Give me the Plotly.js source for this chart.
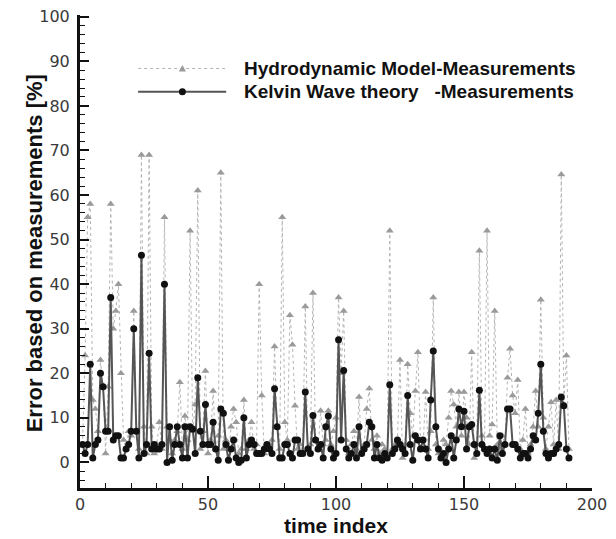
<!DOCTYPE html>
<html>
<head>
<meta charset="utf-8">
<script src="https://cdn.plot.ly/plotly-3.0.1.min.js"></script>
<style>html,body{margin:0;padding:0;background:#fff;}#chart{width:616px;height:539px;}</style>
</head>
<body>
<div id="chart"></div>
<script>
// time index values 1..191
const timeIndex = [];
for (let i = 1; i <= 191; i++) timeIndex.push(i);

// Hydrodynamic Model - Measurements error [%]
const hydroError = [
  4, 24, 55, 58, 14, 12, 7, 23, 17, 2,
  17, 58, 30, 34, 40, 20, 5, 3, 7, 6,
  34, 7, 3, 69, 8, 2, 69, 8, 2, 4,
  9, 3, 55, 8, 5, 2, 5, 7, 18, 3,
  10.4, 5, 52, 7, 13, 61, 3, 7, 20.5, 2,
  5, 16, 3, 6, 65, 3, 5, 1, 8, 12,
  9, 2, 3, 14, 3, 5, 9, 3, 4, 40,
  15, 2, 3, 4, 5, 26, 8, 3, 55, 9,
  5, 33, 26.4, 12.7, 3, 4, 2, 35, 3, 4,
  38, 5, 3, 11.6, 4, 5, 11.6, 4, 7, 10,
  37, 20, 34, 5, 2, 4, 7, 3, 14.7, 2,
  4, 12, 16.6, 5, 3, 6, 2, 4, 3, 2,
  52, 3, 4, 5, 23, 1, 4, 22, 11, 6,
  16, 24.7, 5, 3, 15.8, 3, 7, 37, 4, 2,
  1, 5, 4, 10, 16, 13, 8, 15.8, 6, 15.8,
  10, 4, 24.7, 1, 4, 47.5, 6, 3, 52, 6,
  8.5, 34, 4, 3, 6, 4, 19, 25.5, 15, 11,
  18.5, 3, 5, 12, 2, 4, 8, 16, 8, 36.5,
  10, 3, 8, 13.5, 4, 14, 3, 64.6, 13, 24, 3
];

// Kelvin Wave theory - Measurements error [%]
const kelvinError = [
  4, 2, 4, 22, 1, 4, 5, 20, 17, 7,
  7, 37, 5, 6, 6, 1, 1, 3, 4, 7,
  30, 7, 1, 46.5, 2, 4, 24.5, 3, 4, 3,
  3, 4, 40, 0, 8, 0.5, 4, 8, 4, 1,
  8, 1, 8, 7.5, 2, 19, 7, 4, 13, 4,
  4, 9, 3, 0.5, 12, 11, 4, 0.5, 3, 5,
  1, 0, 0.5, 10, 1, 4, 5, 4, 2, 2,
  2, 3, 4, 3, 2, 16.5, 8, 1, 1, 4,
  4, 2, 1, 5, 5, 2, 2, 15.8, 3, 2,
  10.5, 5, 3, 4, 1, 8, 10.4, 3, 1, 2,
  27.5, 5, 20.6, 3, 1, 2, 4, 1, 8, 2,
  3, 4, 9, 8, 1, 4, 1, 0.5, 2, 1,
  17.4, 2, 3, 5, 4, 3, 2, 15, 4, 0.5,
  6, 5, 3, 5, 3, 1, 14, 25, 8, 3,
  1, 2, 0, 3, 6, 1, 5, 12, 8, 11.5,
  3, 8, 8.5, 4, 2, 16.2, 4, 3, 2, 3,
  1, 3, 0.5, 6, 2, 4, 12, 12, 4, 4,
  3, 1, 2, 2, 1, 3, 6, 5, 11, 22,
  7, 2, 1, 2, 2, 3, 4, 14.7, 12.7, 3, 1
];

const seriesNames = ["Hydrodynamic Model-Measurements", "Kelvin Wave theory   -Measurements"];
const xTicks = [0, 50, 100, 150, 200];
const yTicks = [0, 10, 20, 30, 40, 50, 60, 70, 80, 90, 100];
const yTitle = "Error based on measurements [%]";
const xTitle = "time index";

const boldFont = {family: "Liberation Sans, Arial, sans-serif", color: "#111", weight: "bold"};
const tickFont = {family: "DejaVu Sans, Verdana, sans-serif", color: "#3a3a3a", size: 16};

const traces = [
  {
    x: timeIndex, y: hydroError, type: "scatter", mode: "lines+markers",
    name: seriesNames[0], showlegend: false,
    line: {color: "#b4b4b4", width: 1, dash: "dot"},
    marker: {symbol: "triangle-up", size: 7, color: "#9a9a9a"}
  },
  {
    x: timeIndex, y: kelvinError, type: "scatter", mode: "lines+markers",
    name: seriesNames[1], showlegend: false,
    line: {color: "#555555", width: 2},
    marker: {symbol: "circle", size: 7, color: "#111"}
  }
];

// hand-drawn legend (inside plot, data coordinates)
const legY = [88.4, 83.2];
const legX0 = 22.7, legX1 = 57.1, legXm = 40, legTx = 63.4;
const shapes = [
  {type: "line", xref: "x", yref: "y", x0: legX0, x1: legX1, y0: legY[0], y1: legY[0],
   line: {color: "#b4b4b4", width: 1, dash: "dot"}},
  {type: "line", xref: "x", yref: "y", x0: legX0, x1: legX1, y0: legY[1], y1: legY[1],
   line: {color: "#555555", width: 2}},
  {type: "path", xref: "x", yref: "y", xsizemode: "pixel", ysizemode: "pixel",
   xanchor: legXm, yanchor: legY[0], path: "M-3.5,-3 L3.5,-3 L0,3.5 Z",
   fillcolor: "#9a9a9a", line: {width: 0}},
  {type: "circle", xref: "x", yref: "y", xsizemode: "pixel", ysizemode: "pixel",
   xanchor: legXm, yanchor: legY[1], x0: -3.5, x1: 3.5, y0: -3.5, y1: 3.5,
   fillcolor: "#111", line: {width: 0}}
];
const annotations = seriesNames.map((n, i) => ({
  xref: "x", yref: "y", x: legTx, y: legY[i], xanchor: "left", yanchor: "middle",
  text: n, showarrow: false, font: Object.assign({}, boldFont, {size: 19})
}));
// y-axis title placed as rotated text
annotations.push({
  xref: "paper", yref: "paper", x: -0.09, y: 0.496, xanchor: "center", yanchor: "middle",
  text: yTitle, textangle: -90, showarrow: false, font: Object.assign({}, boldFont, {size: 22})
});

const layout = {
  width: 616, height: 539,
  margin: {l: 80, r: 24, t: 15, b: 51},
  paper_bgcolor: "#ffffff", plot_bgcolor: "#ffffff",
  showlegend: false,
  xaxis: {
    range: [0, 200], tickvals: xTicks, ticks: "inside", ticklen: 12, tickwidth: 2, tickcolor: "#111",
    minor: {dtick: 10, ticks: "inside", ticklen: 5, tickwidth: 1, tickcolor: "#111"},
    showline: true, linecolor: "#111", linewidth: 3, showgrid: false, zeroline: false,
    tickfont: tickFont,
    title: {text: xTitle, font: Object.assign({}, boldFont, {size: 21}), standoff: 0}
  },
  yaxis: {
    range: [-5.75, 100.4], tickvals: yTicks, ticks: "inside", ticklen: 9, tickwidth: 2, tickcolor: "#111",
    minor: {dtick: 2, ticks: "inside", ticklen: 5, tickwidth: 1, tickcolor: "#111"},
    showline: true, linecolor: "#111", linewidth: 3, showgrid: false, zeroline: false,
    tickfont: tickFont, ticklabelstandoff: 4
  },
  shapes: shapes,
  annotations: annotations
};

Plotly.newPlot("chart", traces, layout, {displayModeBar: false, staticPlot: true});
</script>
</body>
</html>
